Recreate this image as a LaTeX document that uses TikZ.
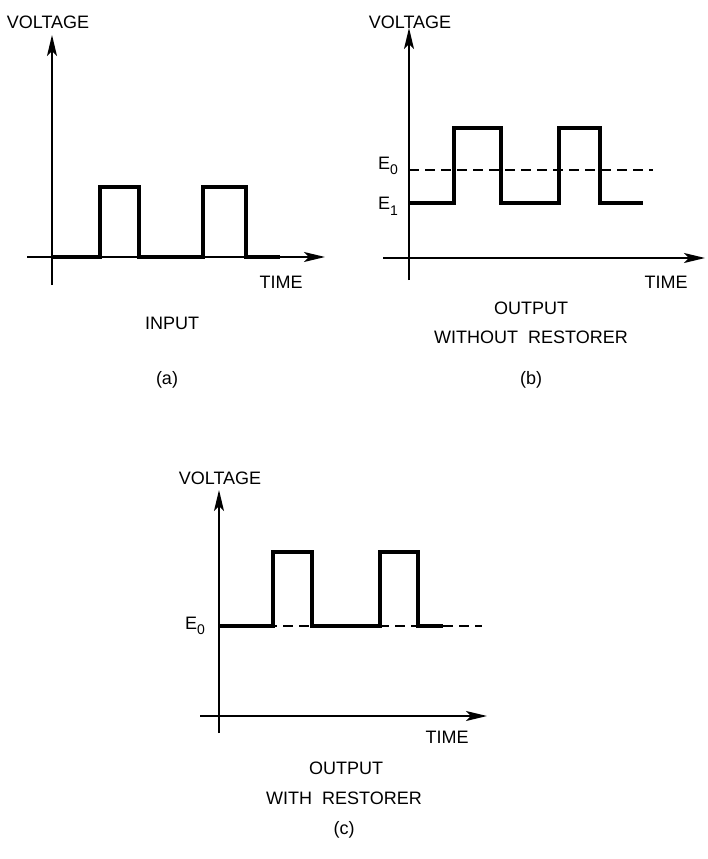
\documentclass[tikz,border=0pt]{standalone}
\usepackage{fontspec}
\setmainfont{Liberation Sans}
\usetikzlibrary{arrows.meta}
\begin{document}
\begin{tikzpicture}[x=1pt,y=-1pt,
  axis/.style={line width=1.6pt,-{Stealth[length=21pt,width=10pt,inset=5pt]}},
  sig/.style={line width=3.3pt,line join=miter},
  dsh/.style={line width=1.5pt,dash pattern=on 10pt off 6pt},
  lbl/.style={font=\fontsize{18}{20}\selectfont,inner sep=0pt}]
\useasboundingbox (0,0) rectangle (707,859);
% ---------- (a)
\coordinate (ay0) at (52,285); \coordinate (ay1) at (52,35);
\coordinate (ax0) at (27,257); \coordinate (ax1) at (325,257);
\draw[axis] (ay0) -- (ay1);
\draw[axis] (ax0) -- (ax1);
\draw[sig] (52,257) -- (100,257) -- (100,187) -- (139,187) -- (139,257) -- (203,257) -- (203,187) -- (246,187) -- (246,257) -- (280,257);
\node[lbl] (av) at (48,22) {VOLTAGE};
\node[lbl] (at) at (281,282) {TIME};
\node[lbl] (ain) at (172,323) {INPUT};
\node[lbl] (acap) at (167,380) {(a)};
% ---------- (b)
\coordinate (by0) at (409,280); \coordinate (by1) at (409,28);
\coordinate (bx0) at (383,258); \coordinate (bx1) at (705,258);
\draw[axis] (by0) -- (by1);
\draw[axis] (bx0) -- (bx1);
\draw[dsh] (409,170) -- (653,170);
\draw[sig] (409,203) -- (454,203) -- (454,128) -- (501,128) -- (501,203) -- (559,203) -- (559,128) -- (600,128) -- (600,203) -- (643,203);
\node[lbl] (bv) at (410,22) {VOLTAGE};
\node[lbl] (bt) at (666,282) {TIME};
\node[lbl,anchor=east] (be0) at (398,166) {E\raisebox{-0.3em}{\fontsize{14}{14}\selectfont 0}};
\node[lbl,anchor=east] (be1) at (398,206) {E\raisebox{-0.35em}{\fontsize{14}{14}\selectfont 1}};
\node[lbl] (bout) at (531,308) {OUTPUT};
\node[lbl] (bwo) at (531,337) {WITHOUT\ \ RESTORER};
\node[lbl] (bcap) at (531,380) {(b)};
% ---------- (c)
\coordinate (cy0) at (219,733); \coordinate (cy1) at (219,490);
\coordinate (cx0) at (200,716); \coordinate (cx1) at (487,716);
\draw[axis] (cy0) -- (cy1);
\draw[axis] (cx0) -- (cx1);
\draw[dsh] (219,626) -- (482,626);
\draw[sig] (219,626) -- (273,626) -- (273,552) -- (312,552) -- (312,626) -- (380,626) -- (380,552) -- (418,552) -- (418,626) -- (443,626);
\node[lbl] (cv) at (220,478) {VOLTAGE};
\node[lbl] (ct) at (447,737) {TIME};
\node[lbl,anchor=east] (ce0) at (205,626) {E\raisebox{-0.3em}{\fontsize{14}{14}\selectfont 0}};
\node[lbl] (cout) at (346,768) {OUTPUT};
\node[lbl] (cwr) at (344,798) {WITH\ \ RESTORER};
\node[lbl] (ccap) at (344,830) {(c)};
\end{tikzpicture}
\end{document}
